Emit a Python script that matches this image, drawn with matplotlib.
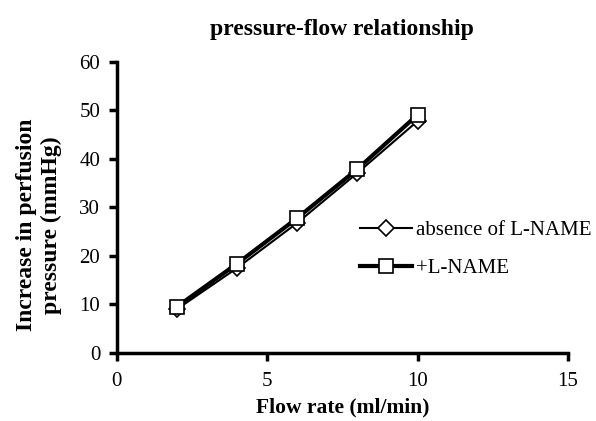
import matplotlib
matplotlib.use("Agg")
import matplotlib.pyplot as plt

flow = [2, 4, 6, 8, 10]
absence = [9.0, 17.5, 26.8, 37.1, 47.8]
lname = [9.5, 18.4, 27.8, 37.9, 49.1]
xticks = [0, 5, 10, 15]
yticks = [0, 10, 20, 30, 40, 50, 60]

plt.rcParams['font.family'] = ['Liberation Serif', 'DejaVu Serif']
fig = plt.figure(figsize=(5.96, 4.21), dpi=100)
ax = fig.add_axes([0.196, 0.162, 0.757, 0.691])

ax.plot(flow, absence, color='black', lw=1.5, marker='D', ms=8, mfc='white', mec='black', mew=1.2, label='absence of L-NAME')
ax.plot(flow, lname, color='black', lw=3, marker='s', ms=10.5, mfc='white', mec='black', mew=1.2, label='+L-NAME')

ax.set_xlim(0, 15)
ax.set_ylim(0, 60)
ax.set_xticks(xticks)
ax.set_yticks(yticks)
for s in ['top', 'right']:
    ax.spines[s].set_visible(False)
for s in ['left', 'bottom']:
    ax.spines[s].set_linewidth(2.5)
ax.tick_params(direction='out', length=6, width=2.5, labelsize=15)
ax.tick_params(axis='x', pad=8)
ax.tick_params(axis='y', pad=6)
ax.set_xlabel('Flow rate (ml/min)', fontsize=15.5, fontweight='bold')
ax.xaxis.set_label_coords(0.5, -0.155)
ax.set_ylabel('Increase in perfusion\npressure (mmHg)', fontsize=17, fontweight='bold')
ax.yaxis.set_label_coords(-0.122, 0.44)
ax.set_title('pressure-flow relationship', fontsize=17, fontweight='bold', pad=19)
leg = ax.legend(loc='center left', bbox_to_anchor=(0.52, 0.355), frameon=False, fontsize=15,
                handlelength=2.5, handletextpad=0.2, labelspacing=0.9, borderaxespad=0)

fig.savefig('out.png', dpi=100)
